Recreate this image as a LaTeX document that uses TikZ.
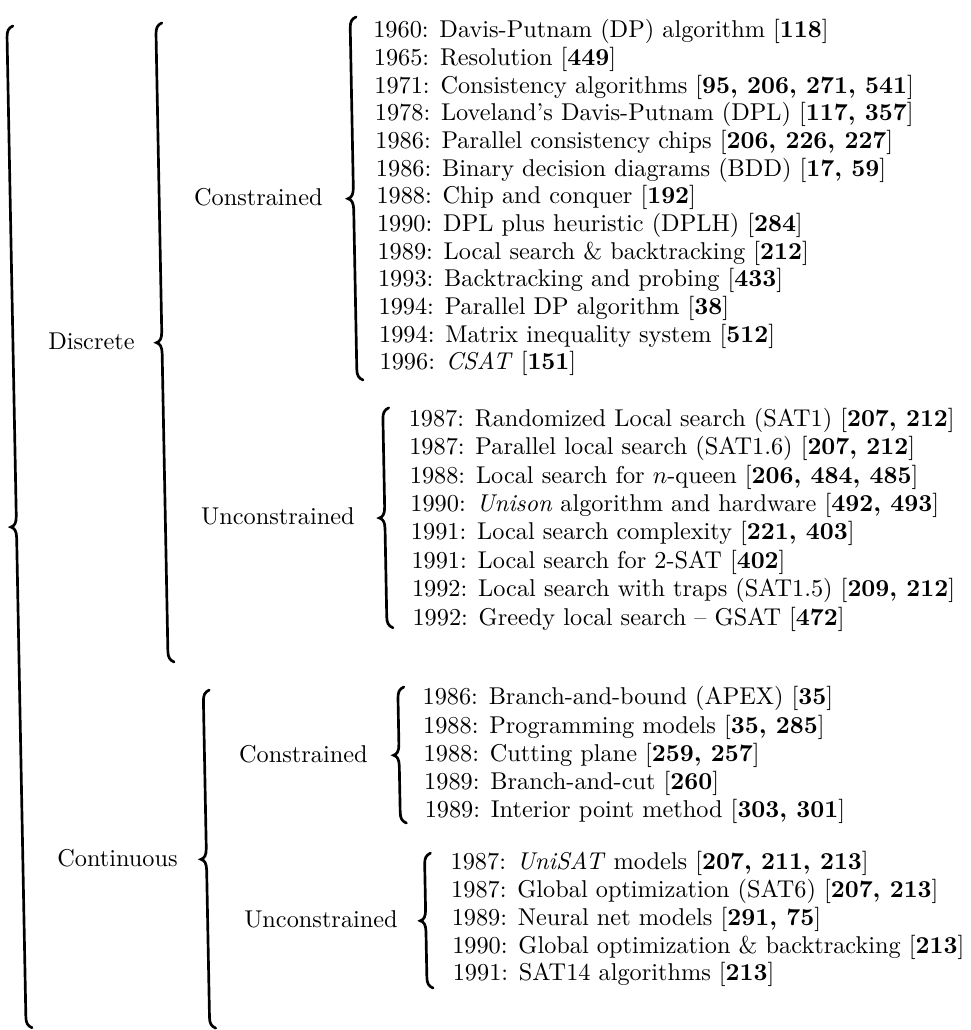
\documentclass[tikz,border=0pt]{standalone}
\newcommand{\curlybrace}[3]{% stem x, top y, bottom y
  \pgfmathsetmacro{\bmid}{(#2+#3)/2}
  \draw[bracestyle] ({#1+6},#2) .. controls ({#1+1.5},{#2+2}) and (#1,{#2+5}) .. (#1,{#2+11})
     -- (#1,{\bmid-11}) .. controls (#1,{\bmid-4}) and ({#1-2},{\bmid-1}) .. ({#1-5.5},\bmid)
     .. controls ({#1-2},{\bmid+1}) and (#1,{\bmid+4}) .. (#1,{\bmid+11})
     -- (#1,{#3-11}) .. controls (#1,{#3-5}) and ({#1+1.5},{#3-2}) .. ({#1+6},#3);
}
\begin{document}
\begin{tikzpicture}[x=0.4115pt,y=-0.4115pt,
  item/.style={anchor=base west,inner sep=0pt},
  head/.style={anchor=base east,inner sep=0pt},
  bracestyle/.style={line width=1.1pt,line cap=round}]
\fill[white] (0,0) rectangle (971,1030);
\useasboundingbox (0,0) rectangle (971,1030);
% the whole tree sits slightly tilted on the page
\begin{scope}[rotate around={1.1:(485,515)}]
% braces of the classification tree
\curlybrace{16.3}{17}{1019}
\curlybrace{165.3}{16.8}{656}
\curlybrace{199.9}{684.7}{1022.9}
\curlybrace{359.6}{14.5}{377.7}
\curlybrace{384.8}{406}{626}
\curlybrace{394.5}{685.4}{821.5}
\curlybrace{418}{852}{987}
% category labels
\node[head] (discrete) at (138.3,342.9) {Discrete};
\node[head] (continuous) at (171.5,860.3) {Continuous};
\node[head] (dcons) at (329,202.6) {Constrained};
\node[head] (duncons) at (354.9,522.5) {Unconstrained};
\node[head] (ccons) at (363.4,760) {Constrained};
\node[head] (cuncons) at (390.3,926) {Unconstrained};
% discrete, constrained
\node[item] (d1) at (382,35.7) {1960: Davis-Putnam (DP) algorithm [\textbf{118}]};
\node[item] (d2) at (382,63.4) {1965: Resolution [\textbf{449}]};
\node[item] (d3) at (382,91.0) {1971: Consistency algorithms [\textbf{95, 206, 271, 541}]};
\node[item] (d4) at (382,118.7) {1978: Loveland's Davis-Putnam (DPL) [\textbf{117, 357}]};
\node[item] (d5) at (382,146.4) {1986: Parallel consistency chips [\textbf{206, 226, 227}]};
\node[item] (d6) at (382,174.1) {1986: Binary decision diagrams (BDD) [\textbf{17, 59}]};
\node[item] (d7) at (382,201.7) {1988: Chip and conquer [\textbf{192}]};
\node[item] (d8) at (382,229.4) {1990: DPL plus heuristic (DPLH) [\textbf{284}]};
\node[item] (d9) at (382,257.1) {1989: Local search \& backtracking [\textbf{212}]};
\node[item] (d10) at (382,284.7) {1993: Backtracking and probing [\textbf{433}]};
\node[item] (d11) at (382,312.4) {1994: Parallel DP algorithm [\textbf{38}]};
\node[item] (d12) at (382,340.1) {1994: Matrix inequality system [\textbf{512}]};
\node[item] (d13) at (382,367.7) {1996: \textit{CSAT} [\textbf{151}]};
% discrete, unconstrained
\node[item] (e1) at (410,424.8) {1987: Randomized Local search (SAT1) [\textbf{207, 212}]};
\node[item] (e2) at (410,453.2) {1987: Parallel local search (SAT1.6) [\textbf{207, 212}]};
\node[item] (e3) at (410,481.6) {1988: Local search for $n$-queen [\textbf{206, 484, 485}]};
\node[item] (e4) at (410,510.0) {1990: \textit{Unison} algorithm and hardware [\textbf{492, 493}]};
\node[item] (e5) at (410,538.4) {1991: Local search complexity [\textbf{221, 403}]};
\node[item] (e6) at (410,566.8) {1991: Local search for 2-SAT [\textbf{402}]};
\node[item] (e7) at (410,595.2) {1992: Local search with traps (SAT1.5) [\textbf{209, 212}]};
\node[item] (e8) at (410,623.6) {1992: Greedy local search -- GSAT [\textbf{472}]};
% continuous, constrained
\node[item] (f1) at (418.5,703.6) {1986: Branch-and-bound (APEX) [\textbf{35}]};
\node[item] (f2) at (418.5,731.9) {1988: Programming models [\textbf{35, 285}]};
\node[item] (f3) at (418.5,760.1) {1988: Cutting plane [\textbf{259, 257}]};
\node[item] (f4) at (418.5,788.4) {1989: Branch-and-cut [\textbf{260}]};
\node[item] (f5) at (418.5,816.6) {1989: Interior point method [\textbf{303, 301}]};
% continuous, unconstrained
\node[item] (g1) at (443.4,869.1) {1987: \textit{UniSAT} models [\textbf{207, 211, 213}]};
\node[item] (g2) at (443.4,896.9) {1987: Global optimization (SAT6) [\textbf{207, 213}]};
\node[item] (g3) at (443.4,924.6) {1989: Neural net models [\textbf{291, 75}]};
\node[item] (g4) at (443.4,952.4) {1990: Global optimization \& backtracking [\textbf{213}]};
\node[item] (g5) at (443.4,980.1) {1991: SAT14 algorithms [\textbf{213}]};
\end{scope}
\end{tikzpicture}
\end{document}
